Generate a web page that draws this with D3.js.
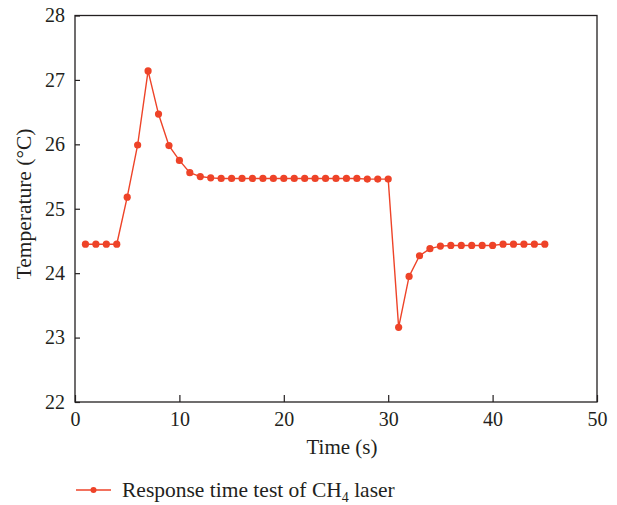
<!DOCTYPE html>
<html>
<head>
<meta charset="utf-8">
<script src="https://cdn.jsdelivr.net/npm/d3@7"></script>
<style>
  body { margin: 0; background: #fff; }
  text { font-family: "Liberation Serif", "DejaVu Serif", serif; fill: #231f20; }
</style>
</head>
<body>
<div id="chart"></div>
<script>
// data
var times = d3.range(1, 46);
var temps = [24.45, 24.45, 24.45, 24.45, 25.18, 25.99, 27.14, 26.47, 25.98, 25.75,
             25.56, 25.50, 25.48, 25.47, 25.47, 25.47, 25.47, 25.47, 25.47, 25.47,
             25.47, 25.47, 25.47, 25.47, 25.47, 25.47, 25.47, 25.46, 25.46, 25.46,
             23.16, 23.95, 24.27, 24.38, 24.42, 24.43, 24.43, 24.43, 24.43, 24.43,
             24.45, 24.45, 24.45, 24.45, 24.45];
var xTicks = [0, 10, 20, 30, 40, 50];
var yTicks = [22, 23, 24, 25, 26, 27, 28];
var seriesName = "Response time test of CH";

var width = 617, height = 505;
var red = "#ee4328";

var svg = d3.select("#chart").append("svg")
    .attr("width", width)
    .attr("height", height);

var x = d3.scaleLinear().domain([0, 50]).range([75, 597]);
var y = d3.scaleLinear().domain([22, 28]).range([402, 15.5]);

// frame
svg.append("rect")
    .attr("x", x(0)).attr("y", y(28))
    .attr("width", x(50) - x(0)).attr("height", y(22) - y(28))
    .style("fill", "none").style("stroke", "#231f20").style("stroke-width", 1.3);

// x axis (ticks inward)
var gx = svg.append("g").attr("transform", "translate(0," + y(22) + ")");
gx.call(d3.axisBottom(x).tickValues(d3.range(5, 50, 10)).tickSize(-4).tickFormat(""));
gx.call(d3.axisBottom(x).tickValues(xTicks).tickSize(-7).tickPadding(10).tickFormat(d3.format("d")))
gx.selectAll(".domain").remove();
gx.selectAll("line").style("stroke", "#231f20").style("stroke-width", 1.2);
gx.selectAll("text").style("font-size", "20px");

// y axis
var gy = svg.append("g").attr("transform", "translate(" + x(0) + ",0)");
gy.call(d3.axisLeft(y).tickValues(d3.range(22.5, 28, 1)).tickSize(-5).tickFormat(""));
gy.call(d3.axisLeft(y).tickValues(yTicks).tickSize(-5).tickPadding(10).tickFormat(d3.format("d")));
gy.selectAll(".domain").remove();
gy.selectAll("line").style("stroke", "#231f20").style("stroke-width", 1.2);
gy.selectAll("text").style("font-size", "20px");

// axis titles
svg.append("text")
    .attr("x", (x(0) + x(50)) / 2 + 6).attr("y", 454)
    .attr("text-anchor", "middle")
    .style("font-size", "21px")
    .text("Time (s)");

svg.append("text")
    .attr("transform", "translate(31,204) rotate(-90)")
    .attr("text-anchor", "middle")
    .style("font-size", "21.5px")
    .text("Temperature (\u00B0C)");

// series
var line = d3.line()
    .x(function(d, i) { return x(times[i]); })
    .y(function(d) { return y(d); });

svg.append("path")
    .datum(temps)
    .attr("d", line)
    .style("fill", "none")
    .style("stroke", red)
    .style("stroke-width", 1.4);

svg.append("g").selectAll("circle")
    .data(temps)
    .enter().append("circle")
    .attr("cx", function(d, i) { return x(times[i]); })
    .attr("cy", function(d) { return y(d); })
    .attr("r", 3.6)
    .style("fill", red);

// legend
var lg = svg.append("g").attr("transform", "translate(76,490)");
lg.append("line").attr("x1", 0).attr("x2", 35).attr("y1", 0).attr("y2", 0)
    .style("stroke", red).style("stroke-width", 1.4);
lg.append("circle").attr("cx", 17.5).attr("cy", 0).attr("r", 3).style("fill", red);
var lt = lg.append("text").attr("x", 46).attr("y", 7).style("font-size", "21.5px");
lt.append("tspan").text(seriesName);
lt.append("tspan").attr("dy", 5).style("font-size", "14px").text("4");
lt.append("tspan").attr("dy", -5).text(" laser");
</script>
</body>
</html>
